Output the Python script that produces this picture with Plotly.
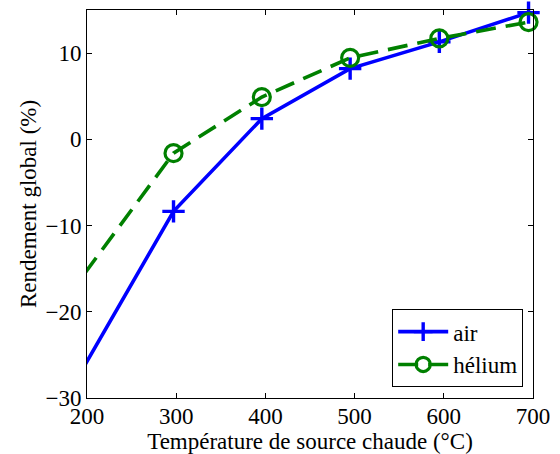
import plotly.graph_objects as go

temp = [197, 297, 396, 495, 595, 695]
air = [-26.3, -8.35, 2.4, 8.2, 11.3, 14.7]
helium = [-15.6, -1.6, 4.9, 9.45, 11.7, 13.6]
x_ticks = [200, 300, 400, 500, 600, 700]
y_ticks = [-30, -20, -10, 0, 10]
y_tick_text = ["−30", "−20", "−10", "0", "10"]

font = "'Liberation Serif', 'Times New Roman', serif"
fs = 23
# first point lies just outside the axis range: its marker is hidden
msize_air = [0, 16, 16, 16, 16, 16]
msize_he = [0, 17, 17, 17, 17, 17]

fig = go.Figure()
fig.add_trace(go.Scatter(
    x=temp, y=air, name="air", mode="lines+markers", cliponaxis=False,
    line=dict(color="#0000ff", width=3.6),
    marker=dict(symbol="cross-thin", size=msize_air, opacity=1, line=dict(color="#0000ff", width=3.4)),
))
fig.add_trace(go.Scatter(
    x=temp, y=helium, name="hélium", mode="lines+markers", cliponaxis=False,
    line=dict(color="#008000", width=3.6, dash="20px,10px"),
    marker=dict(symbol="circle-open", size=msize_he, opacity=1, color="#008000", line=dict(color="#008000", width=3.2)),
))
axis_common = dict(
    showgrid=False, zeroline=False, showline=True, linecolor="black", linewidth=1,
    mirror="ticks", ticks="inside", ticklen=5, tickcolor="black", automargin=False,
    tickfont=dict(family=font, size=fs, color="black"),
)
fig.update_xaxes(range=[200, 700], tickvals=x_ticks, ticklabelstandoff=-3,
                 title=dict(text="Température de source chaude (°C)", font=dict(family=font, size=fs, color="black"), standoff=0),
                 **axis_common)
fig.update_yaxes(range=[-30, 15], tickvals=y_ticks, ticktext=y_tick_text,
                 title=dict(text="Rendement global (%)", font=dict(family=font, size=fs, color="black"), standoff=2),
                 **axis_common)
fig.update_layout(
    width=560, height=454,
    margin=dict(l=87, r=27, t=10, b=56),
    plot_bgcolor="white", paper_bgcolor="white",
    legend=dict(x=0.978, y=0.028, xanchor="right", yanchor="bottom",
                bordercolor="black", borderwidth=1, bgcolor="white",
                font=dict(family=font, size=fs, color="black"),
                tracegroupgap=0, itemwidth=50),
)
fig.write_html("out.html", config={"displayModeBar": False},
               post_script="document.body.style.margin='0';document.body.style.overflow='hidden';")
